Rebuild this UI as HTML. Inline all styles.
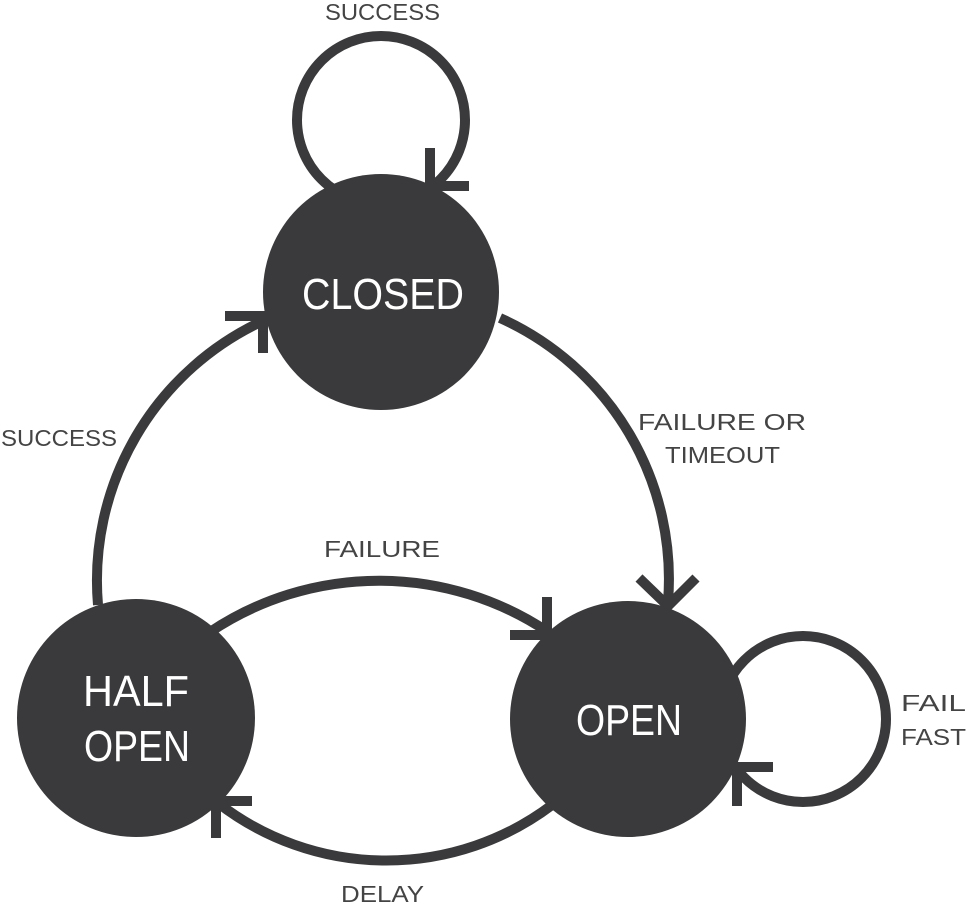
<!DOCTYPE html>
<html><head><meta charset="utf-8"><style>
html,body{margin:0;padding:0;background:#fff;}
svg{display:block;}
.lbl{font-family:"Liberation Sans Narrow","Liberation Sans",sans-serif;font-size:23px;fill:#444;}
.nd{font-family:"Liberation Sans Narrow","Liberation Sans",sans-serif;font-size:44px;fill:#fff;}
</style></head><body>
<svg width="967" height="904" viewBox="0 0 967 904" xmlns="http://www.w3.org/2000/svg">
<g fill="none" stroke="#3a3a3c" stroke-width="10" stroke-linejoin="miter">
  <circle cx="381" cy="120" r="84"/>
  <circle cx="803" cy="719" r="83"/>
  <path d="M 98 605 A 286 286 0 0 1 265 320"/>
  <path d="M 500 318 A 286 286 0 0 1 668 602"/>
  <path d="M 210 632 A 304 304 0 0 1 548 632"/>
  <path d="M 552 805 A 275 275 0 0 1 218 803"/>
</g>
<g fill="#3a3a3c">
  <circle cx="381" cy="292" r="118"/>
  <circle cx="628" cy="719" r="118"/>
  <circle cx="136" cy="718" r="119"/>
</g>
<g fill="none" stroke="#3a3a3c" stroke-width="10" stroke-linejoin="miter" stroke-linecap="butt">
  <polyline points="430,148 430,186 469,186"/>
  <polyline points="773,767 737,767 737,806"/>
  <polyline points="639,578 668,606 696,578"/>
  <polyline points="547,597 547,635 510,635"/>
  <polyline points="225,316 263,316 263,353"/>
  <polyline points="252,801 216,801 216,838"/>
</g>
<text class="nd" x="302" y="309" textLength="162" lengthAdjust="spacingAndGlyphs">CLOSED</text>
<text class="nd" x="576" y="735" textLength="106" lengthAdjust="spacingAndGlyphs">OPEN</text>
<text class="nd" x="83" y="706" textLength="106" lengthAdjust="spacingAndGlyphs">HALF</text>
<text class="nd" x="84" y="761" textLength="106" lengthAdjust="spacingAndGlyphs">OPEN</text>
<text class="lbl" x="325" y="20" textLength="115" lengthAdjust="spacingAndGlyphs">SUCCESS</text>
<text class="lbl" x="1" y="446" textLength="116" lengthAdjust="spacingAndGlyphs">SUCCESS</text>
<text class="lbl" x="638" y="430" textLength="168" lengthAdjust="spacingAndGlyphs">FAILURE OR</text>
<text class="lbl" x="665" y="463" textLength="115" lengthAdjust="spacingAndGlyphs">TIMEOUT</text>
<text class="lbl" x="324" y="557" textLength="116" lengthAdjust="spacingAndGlyphs">FAILURE</text>
<text class="lbl" x="341" y="902" textLength="83" lengthAdjust="spacingAndGlyphs">DELAY</text>
<text class="lbl" x="901" y="711" textLength="65" lengthAdjust="spacingAndGlyphs">FAIL</text>
<text class="lbl" x="901" y="745" textLength="65" lengthAdjust="spacingAndGlyphs">FAST</text>
</svg>
</body></html>
